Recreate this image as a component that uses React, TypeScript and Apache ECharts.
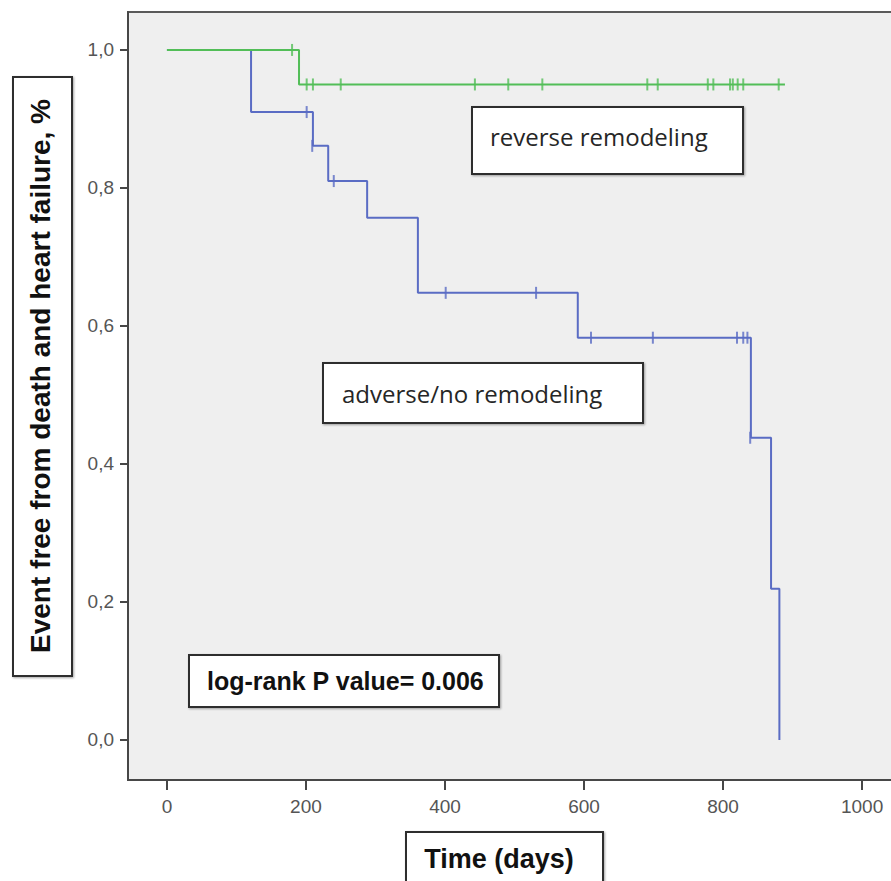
import React, { useEffect, useRef } from "react";
import * as echarts from "echarts";

// Kaplan-Meier step points (days, survival)
const adverseTimes = [0, 121, 210, 232, 288, 361, 591, 840, 869, 881];
const adverseSurv = [1.0, 0.91, 0.861, 0.81, 0.757, 0.648, 0.583, 0.438, 0.219, 0.0];
const adverseCensorTimes = [201, 209, 240, 401, 531, 610, 699, 820, 829, 835, 839];
const adverseCensorSurv = [0.91, 0.861, 0.81, 0.648, 0.648, 0.583, 0.583, 0.583, 0.583, 0.583, 0.438];

const reverseTimes = [0, 190, 889];
const reverseSurv = [1.0, 0.95, 0.95];
const reverseCensorTimes = [180, 201, 210, 250, 443, 491, 540, 691, 706, 778, 786, 810, 814, 821, 829, 880];
const reverseCensorSurv = [1.0, 0.95, 0.95, 0.95, 0.95, 0.95, 0.95, 0.95, 0.95, 0.95, 0.95, 0.95, 0.95, 0.95, 0.95, 0.95];

const xTickValues = [0, 200, 400, 600, 800, 1000];
const yTickValues = [0, 0.2, 0.4, 0.6, 0.8, 1.0];

const xTitle = "Time (days)";
const yTitle = "Event free from death and heart failure, %";
const reverseLabel = "reverse remodeling";
const adverseLabel = "adverse/no remodeling";
const pValueLabel = "log-rank P value= 0.006";

const BLUE = "#5a6cc4";
const GREEN = "#52be58";
const AXIS = "#474747";

const zip = (a: number[], b: number[]) => a.map((v, i) => [v, b[i]]);

const box = (x: number, y: number, w: number, h: number) => ({
  type: "rect",
  shape: { x, y, width: w, height: h },
  style: {
    fill: "#ffffff",
    stroke: "#2e2e2e",
    lineWidth: 2,
    shadowBlur: 2,
    shadowOffsetX: 1,
    shadowOffsetY: 1,
    shadowColor: "rgba(0,0,0,0.35)",
  },
  z: 100,
});

export default function App() {
  const ref = useRef<HTMLDivElement>(null);
  useEffect(() => {
    if (!ref.current) return;
    const chart = echarts.init(ref.current, null, { renderer: "svg" });
    chart.setOption({
      animation: false,
      backgroundColor: "#ffffff",
      grid: {
        left: 128,
        top: 12,
        width: 780,
        height: 768,
        show: true,
        backgroundColor: "#efefef",
        borderColor: "#5a5a5a",
        borderWidth: 2,
        containLabel: false,
        outerBoundsMode: "none",
      },
      xAxis: {
        type: "value",
        min: -56,
        max: 1066,
        axisLine: { show: true, onZero: false, lineStyle: { color: AXIS, width: 2 } },
        axisTick: { show: true, customValues: xTickValues, length: 10, lineStyle: { color: AXIS, width: 2 } },
        axisLabel: {
          customValues: xTickValues,
          fontSize: 19,
          color: "#555555",
          margin: 17,
          fontFamily: "Liberation Sans, Arial, sans-serif",
          formatter: (v: number) => String(v),
        },
        splitLine: { show: false },
      },
      yAxis: {
        type: "value",
        min: -0.058,
        max: 1.055,
        axisLine: { show: true, onZero: false, lineStyle: { color: AXIS, width: 2 } },
        axisTick: { show: true, customValues: yTickValues, length: 8, lineStyle: { color: AXIS, width: 2 } },
        axisLabel: {
          customValues: yTickValues,
          fontSize: 19,
          color: "#555555",
          margin: 14,
          fontFamily: "Liberation Sans, Arial, sans-serif",
          formatter: (v: number) => v.toFixed(1).replace(".", ","),
        },
        splitLine: { show: false },
      },
      series: [
        {
          type: "line",
          step: "end",
          data: zip(adverseTimes, adverseSurv),
          symbol: "none",
          lineStyle: { color: BLUE, width: 2 },
          z: 2,
        },
        {
          type: "scatter",
          data: zip(adverseCensorTimes, adverseCensorSurv),
          symbol: "rect",
          symbolSize: [2, 12],
          itemStyle: { color: BLUE },
          z: 3,
        },
        {
          type: "line",
          step: "end",
          data: zip(reverseTimes, reverseSurv),
          symbol: "none",
          lineStyle: { color: GREEN, width: 2 },
          z: 4,
        },
        {
          type: "scatter",
          data: zip(reverseCensorTimes, reverseCensorSurv),
          symbol: "rect",
          symbolSize: [2, 12],
          itemStyle: { color: GREEN },
          z: 5,
        },
      ],
      graphic: [
        box(472, 107, 271, 67),
        {
          type: "text",
          x: 490,
          y: 136,
          z: 101,
          style: {
            text: reverseLabel,
            fontSize: 24,
            fontFamily: "Open Sans, sans-serif",
            fill: "#262626",
            verticalAlign: "middle",
            align: "left",
          },
        },
        box(323, 363, 320, 60),
        {
          type: "text",
          x: 342,
          y: 393,
          z: 101,
          style: {
            text: adverseLabel,
            fontSize: 24,
            fontFamily: "Open Sans, sans-serif",
            fill: "#262626",
            verticalAlign: "middle",
            align: "left",
          },
        },
        box(189, 655, 310, 52),
        {
          type: "text",
          x: 207,
          y: 681,
          z: 101,
          style: {
            text: pValueLabel,
            fontSize: 25,
            fontWeight: "bold",
            fontFamily: "Liberation Sans, Arial, sans-serif",
            fill: "#111111",
            verticalAlign: "middle",
            align: "left",
          },
        },
        box(13, 77, 59, 599),
        {
          type: "text",
          x: 40,
          y: 376,
          rotation: Math.PI / 2,
          z: 101,
          style: {
            text: yTitle,
            fontSize: 28,
            fontWeight: "bold",
            fontFamily: "Liberation Sans, Arial, sans-serif",
            fill: "#111111",
            verticalAlign: "middle",
            align: "center",
          },
        },
        box(406, 832, 197, 70),
        {
          type: "text",
          x: 499,
          y: 859,
          z: 101,
          style: {
            text: xTitle,
            fontSize: 27,
            fontWeight: "bold",
            fontFamily: "Liberation Sans, Arial, sans-serif",
            fill: "#111111",
            verticalAlign: "middle",
            align: "center",
          },
        },
      ],
    });
    return () => chart.dispose();
  }, []);
  return (
    <div
      ref={ref}
      style={{ position: "fixed", left: 0, top: 0, width: 891, height: 881, background: "#fff" }}
    />
  );
}
